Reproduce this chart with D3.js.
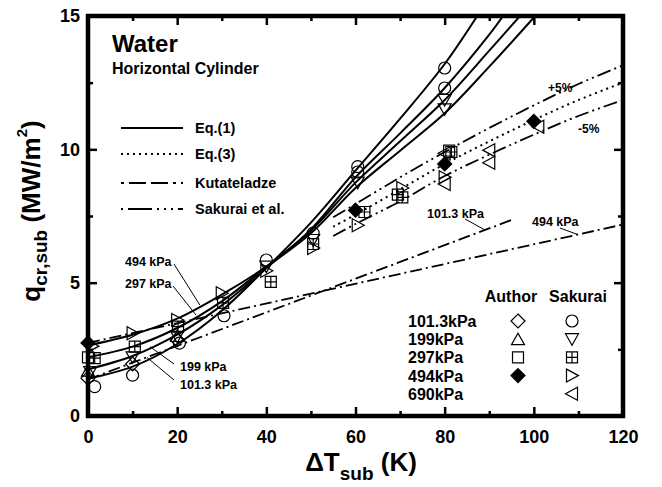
<!DOCTYPE html>
<html>
<head>
<meta charset="utf-8">
<script src="https://cdn.jsdelivr.net/npm/d3@7"></script>
<style>
  body { margin: 0; background: #fff; }
  svg { display: block; font-family: Arial, "Liberation Sans", Helvetica, sans-serif; font-weight: bold; }
</style>
</head>
<body>
<div id="chart"></div>
<script>
// data: [dT_sub (K), q_cr,sub (MW/m2)]
// Eq.(1) curves
const eq1_1013 = [[0,1.4],[10,1.85],[20,2.7],[30,3.95],[40,5.55],[50,7.25],[60,9.2],[70,11.15],[80,13.2],[87.3,15]];
const eq1_199  = [[0,1.75],[10,2.25],[20,3.05],[30,4.15],[40,5.55],[50,7.0],[60,8.95],[70,10.6],[80,12.3],[90,14.3],[93.1,15]];
const eq1_297  = [[0,2.2],[10,2.6],[20,3.3],[30,4.3],[40,5.6],[50,6.95],[60,8.75],[70,10.3],[80,11.85],[90,13.7],[96.9,15]];
const eq1_494  = [[0,2.65],[10,3.05],[20,3.65],[30,4.55],[40,5.6],[50,6.85],[60,8.55],[70,9.95],[80,11.35],[90,13.1],[100.3,15]];

// Eq.(3) and the +/-5% band
const eq3     = [[55,7.1],[60,7.55],[70,8.5],[80,9.45],[90,10.3],[100,11.1],[110,11.85],[120,12.5]];
const eq3Plus = [[55,7.45],[60,7.95],[70,8.95],[80,9.9],[90,10.8],[100,11.65],[110,12.45],[120,13.15]];
const eq3Minus= [[55,6.75],[60,7.2],[70,8.05],[80,9.0],[90,9.8],[100,10.55],[110,11.25],[120,11.85]];

// Kutateladze
const kut1013 = [[0,1.37],[95,7.35]];
const kut494  = [[0,2.74],[120,7.18]];

// experimental points
const author1013 = [[0,1.42],[10,1.95],[20,2.85]];
const author199  = [[0,1.7],[20,3.0]];
const author297  = [[0,2.2],[81,9.95]];
const author494  = [[0,2.74],[60,7.72],[80,9.45],[100,11.05]];
const sak1013 = [[1.5,1.1],[10,1.53],[20.5,2.73],[30.5,3.76],[40,5.85],[50.5,6.86],[60.5,9.35],[60.5,9.15],[80,13.05],[80,12.3]];
const sak199  = [[0.5,1.65],[10,2.2],[20,2.97],[40,5.6],[50.5,6.6],[60.5,8.75],[80,11.85],[80,11.5]];
const sak297  = [[1.5,2.17],[10.5,2.6],[20.2,3.35],[30.3,4.24],[41,5.03],[50.5,6.45],[62,7.65],[69.5,8.3],[70.5,8.2],[81.5,9.9]];
const sak494  = [[1,2.62],[10,3.1],[20,3.6],[30,4.6],[40,5.45],[50.5,6.3],[60.5,7.15],[70.5,8.55],[80,8.95]];
const sak690  = [[80,9.85],[80,8.7],[90,9.97],[90,9.5],[101,10.85]];

const pressures = ["101.3kPa","199kPa","297kPa","494kPa","690kPa"];
const authorShapes  = ["diamond","up","square","diamondFilled",null];
const sakuraiShapes = ["circle","down","plusSquare","right","left"];

const xMajor = [0,20,40,60,80,100,120], xMinor = [10,30,50,70,90,110];
const yMajor = [0,5,10,15], yMinor = [2.5,7.5,12.5];

const width = 662, height = 487;
const x = d3.scaleLinear().domain([0,120]).range([88,623]);
const y = d3.scaleLinear().domain([0,15]).range([416,16]);

const svg = d3.select("#chart").append("svg")
    .attr("width", width)
    .attr("height", height);

svg.append("clipPath").attr("id","plot")
  .append("rect")
    .attr("x", x(0)).attr("y", y(15))
    .attr("width", x(120)-x(0)).attr("height", y(0)-y(15));

// marker shapes
function shape(type) {
    switch (type) {
        case "diamond":
        case "diamondFilled": return "M0,-7L7,0L0,7L-7,0Z";
        case "up":    return "M-6.5,5.5L6.5,5.5L0,-6Z";
        case "down":  return "M-6.5,-5.5L6.5,-5.5L0,6Z";
        case "right": return "M-5.5,-6.5L-5.5,6.5L6.5,0Z";
        case "left":  return "M5.5,-6.5L5.5,6.5L-6.5,0Z";
        case "square": return "M-5.5,-5.5H5.5V5.5H-5.5Z";
        case "plusSquare": return "M-5.5,-5.5H5.5V5.5H-5.5ZM0,-5.5V5.5M-5.5,0H5.5";
        case "circle": return d3.arc()({innerRadius:0, outerRadius:6, startAngle:0, endAngle:2*Math.PI});
    }
}
function drawMarker(g, type, px, py) {
    g.append("path")
        .attr("d", shape(type))
        .attr("transform", `translate(${px},${py})`)
        .attr("fill", type === "diamondFilled" ? "#000" : "none")
        .attr("stroke", "#000")
        .attr("stroke-width", 1.2);
}

// lines
// ---------------------------------------------
const lines = svg.append("g").attr("clip-path","url(#plot)").attr("fill","none").attr("stroke","#000");
const smooth = d3.line().x(d => x(d[0])).y(d => y(d[1])).curve(d3.curveCatmullRom);
const straight = d3.line().x(d => x(d[0])).y(d => y(d[1]));

[eq1_1013, eq1_199, eq1_297, eq1_494].forEach(c => {
    lines.append("path").attr("d", smooth(c)).attr("stroke-width", 2);
});
lines.append("path").attr("d", smooth(eq3)).attr("stroke-width", 2).attr("stroke-dasharray", "2,4");
[eq3Plus, eq3Minus].forEach(c => {
    lines.append("path").attr("d", smooth(c)).attr("stroke-width", 1.8).attr("stroke-dasharray", "14,4,2,4,2,4");
});
[kut1013, kut494].forEach(c => {
    lines.append("path").attr("d", straight(c)).attr("stroke-width", 1.8).attr("stroke-dasharray", "12,4,2,4");
});

// markers
// ---------------------------------------------
const marks = svg.append("g");
const series = [
    [author1013,"diamond"],[author199,"up"],[author297,"square"],[author494,"diamondFilled"],
    [sak1013,"circle"],[sak199,"down"],[sak297,"plusSquare"],[sak494,"right"],[sak690,"left"]
];
series.forEach(([data, type]) => {
    data.forEach(d => drawMarker(marks, type, x(d[0]), y(d[1])));
});

// axes
// ---------------------------------------------
function styleAxis(g) {
    g.select(".domain").remove();
    g.attr("font-family", null).attr("font-size", 18);
    g.selectAll("line").attr("stroke-width", 2.5);
    g.selectAll("text").attr("fill", "#000");
}
svg.append("g").attr("transform", `translate(0,${y(0)})`)
    .call(d3.axisBottom(x).tickValues(xMajor).tickSize(-9).tickPadding(14)).call(styleAxis);
svg.append("g").attr("transform", `translate(0,${y(0)})`)
    .call(d3.axisBottom(x).tickValues(xMinor).tickSize(-5).tickFormat("")).call(styleAxis);
svg.append("g").attr("transform", `translate(0,${y(15)})`)
    .call(d3.axisTop(x).tickValues(xMajor).tickSize(-9).tickFormat("")).call(styleAxis);
svg.append("g").attr("transform", `translate(0,${y(15)})`)
    .call(d3.axisTop(x).tickValues(xMinor).tickSize(-5).tickFormat("")).call(styleAxis);
svg.append("g").attr("transform", `translate(${x(0)},0)`)
    .call(d3.axisLeft(y).tickValues(yMajor).tickSize(-9).tickPadding(8)).call(styleAxis);
svg.append("g").attr("transform", `translate(${x(0)},0)`)
    .call(d3.axisLeft(y).tickValues(yMinor).tickSize(-5).tickFormat("")).call(styleAxis);
svg.append("g").attr("transform", `translate(${x(120)},0)`)
    .call(d3.axisRight(y).tickValues(yMajor).tickSize(-9).tickFormat("")).call(styleAxis);
svg.append("g").attr("transform", `translate(${x(120)},0)`)
    .call(d3.axisRight(y).tickValues(yMinor).tickSize(-5).tickFormat("")).call(styleAxis);

svg.append("rect")
    .attr("x", x(0)).attr("y", y(15))
    .attr("width", x(120)-x(0)).attr("height", y(0)-y(15))
    .attr("fill", "none").attr("stroke", "#000").attr("stroke-width", 4.5);

// axis titles
const xt = svg.append("text").attr("x", 361).attr("y", 471).attr("text-anchor", "middle").attr("font-size", 26);
xt.append("tspan").text("\u0394T");
xt.append("tspan").attr("font-size", 19).attr("dy", 9).text("sub");
xt.append("tspan").attr("dy", -9).text(" (K)");

const yt = svg.append("text").attr("transform", "translate(40,211) rotate(-90)")
    .attr("text-anchor", "middle").attr("font-size", 26);
yt.append("tspan").text("q");
yt.append("tspan").attr("font-size", 19).attr("dy", 7).text("cr,sub");
yt.append("tspan").attr("dy", -7).text(" (MW/m");
yt.append("tspan").attr("font-size", 15).attr("dy", -13).text("2");
yt.append("tspan").attr("dy", 13).text(")");

// annotations
// ---------------------------------------------
svg.append("text").attr("x", 112).attr("y", 52).attr("font-size", 24).text("Water");
svg.append("text").attr("x", 112).attr("y", 74).attr("font-size", 16).text("Horizontal Cylinder");

const legendItems = [
    {label: "Eq.(1)", dash: null},
    {label: "Eq.(3)", dash: "2,4"},
    {label: "Kutateladze", dash: "3,5,17,5,17,5"},
    {label: "Sakurai et al.", dash: "2,5,24,5,2,5,2,5"}
];
legendItems.forEach((d, i) => {
    const ly = [128, 154, 183, 209][i];
    svg.append("line").attr("x1", 121).attr("x2", 183).attr("y1", ly).attr("y2", ly)
        .attr("stroke", "#000").attr("stroke-width", 2).attr("stroke-dasharray", d.dash);
    svg.append("text").attr("x", 195).attr("y", ly + 5).attr("font-size", 14.5).text(d.label);
});

// pressure labels with leader lines (text pos in px, leader tip in data coords)
const curveLabels = [
    {t: "494 kPa", tx: 125, ty: 266, lx: 174, ly: 264, px: 25.1, py: 4.16},
    {t: "297 kPa", tx: 125, ty: 288, lx: 173, ly: 286, px: 24.2, py: 3.79},
    {t: "199 kPa", tx: 180, ty: 371, lx: 174, ly: 364, px: 13.9, py: 2.6},
    {t: "101.3 kPa", tx: 180, ty: 389, lx: 174, ly: 380, px: 13.2, py: 2.2},
    {t: "101.3 kPa", tx: 427, ty: 218, lx: 465, ly: 219, px: 89, py: 6.98},
    {t: "494 kPa", tx: 532, ty: 226, lx: 560, ly: 228, px: 109.9, py: 6.8}
];
curveLabels.forEach(d => {
    svg.append("text").attr("x", d.tx).attr("y", d.ty).attr("font-size", 12.5).text(d.t);
    svg.append("line").attr("x1", d.lx).attr("y1", d.ly).attr("x2", x(d.px)).attr("y2", y(d.py))
        .attr("stroke", "#000").attr("stroke-width", 1);
});
svg.append("text").attr("x", 548).attr("y", 92).attr("font-size", 12).text("+5%");
svg.append("text").attr("x", 578).attr("y", 133).attr("font-size", 12).text("-5%");

// symbol legend
const leg = svg.append("g");
leg.append("text").attr("x", 511).attr("y", 302).attr("text-anchor", "middle").attr("font-size", 16).text("Author");
leg.append("text").attr("x", 578).attr("y", 302).attr("text-anchor", "middle").attr("font-size", 16).text("Sakurai");
pressures.forEach((p, i) => {
    const ry = 321 + i * 18.2;
    leg.append("text").attr("x", 408).attr("y", ry + 6).attr("font-size", 16).text(p);
    if (authorShapes[i]) drawMarker(leg, authorShapes[i], 518, ry);
    drawMarker(leg, sakuraiShapes[i], 572, ry);
});
</script>
</body>
</html>
